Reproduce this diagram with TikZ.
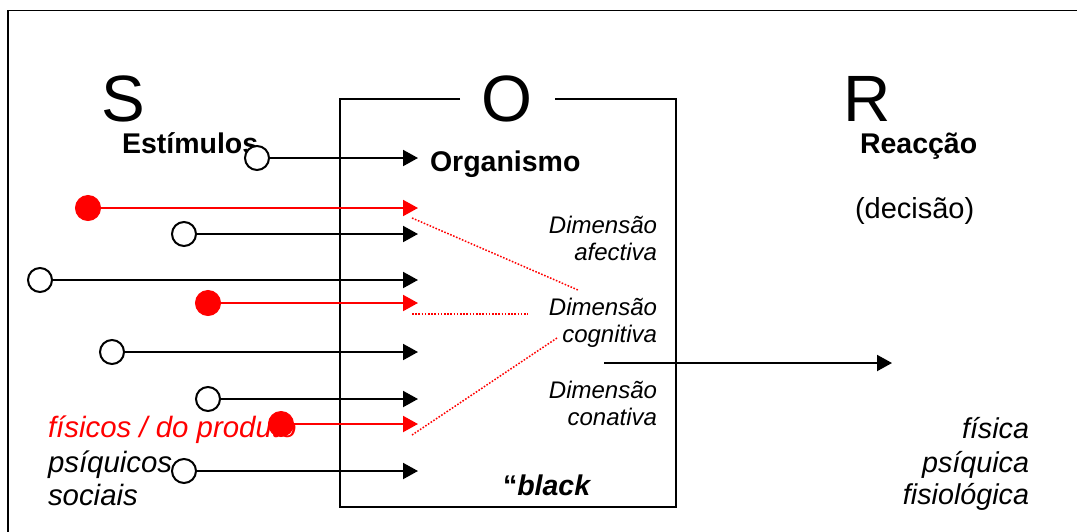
\documentclass[tikz,border=0pt]{standalone}
\usepackage{fontspec}
\setmainfont{Liberation Sans}
\usetikzlibrary{arrows.meta}
\begin{document}
\begin{tikzpicture}[x=1pt,y=1pt,
  lbl/.style={inner sep=0pt, outer sep=0pt},
  big/.style={lbl, font=\fontsize{65.5}{70}\selectfont},
  head/.style={lbl, font=\fontsize{28.5}{33}\selectfont\bfseries},
  dimtxt/.style={lbl, anchor=base east, font=\fontsize{24}{27}\selectfont\itshape},
  sidetxt/.style={lbl, font=\fontsize{28.7}{33}\selectfont\itshape},
  lefttxt/.style={lbl, anchor=base west, font=\fontsize{29.4}{33}\selectfont\itshape},
  opencirc/.style={circle, draw=black, fill=white, line width=2pt, minimum size=24pt, inner sep=0pt},
  redcirc/.style={circle, draw=red, fill=red, line width=1pt, minimum size=25pt, inner sep=0pt},
  arr/.style={line width=2pt, -{Triangle[length=15pt,width=16pt]}},
  redarr/.style={arr, red},
  link/.style={red, line width=1.5pt, dash pattern=on 1.6pt off 1.6pt},
]
\useasboundingbox (0,0) rectangle (1077,-531);
\clip (0,0) rectangle (1077,-531);

% outer frame (runs off the right and bottom edges)
\draw[line width=1.6pt] (8,-560) -- (8,-10.5) -- (1100,-10.5);

% organism box with an opening for the letter O
\draw[line width=2.2pt] (460,-99) -- (340,-99) -- (340,-507) -- (676,-507) -- (676,-99) -- (555,-99);

% big letters
\node[big, anchor=base west] (S) at (101,-121) {S};
\node[big, anchor=base] (O) at (507,-121) {O};
\node[big, anchor=base west] (R) at (843,-121) {R};

% headings
\node[head, anchor=base west] (est) at (122,-153) {Estímulos};
\node[head, anchor=base west] (org) at (430,-171) {Organismo};
\node[head, anchor=base west] (rea) at (860,-153) {Reacção};
\node[lbl, anchor=base west, font=\fontsize{29}{33}\selectfont] (dec) at (855,-218) {(decisão)};

% dimensions inside the box
\node[dimtxt] (afe1) at (657,-233) {Dimensão};
\node[dimtxt] (afe2) at (657,-260) {afectiva};
\node[dimtxt] (cog1) at (657,-315) {Dimensão};
\node[dimtxt] (cog2) at (657,-342) {cognitiva};
\node[dimtxt] (con1) at (657,-398) {Dimensão};
\node[dimtxt] (con2) at (657,-425) {conativa};
\node[head, anchor=base west] (blk) at (503,-495) {“\textit{black}};

% stimulus types
\node[lefttxt, text=red] (fis) at (48,-437) {físicos / do produto};
\node[lefttxt] (psi) at (48,-472) {psíquicos};
\node[lefttxt] (soc) at (48,-505) {sociais};

% response types
\node[sidetxt, anchor=base east] (rfis) at (1029,-438) {física};
\node[sidetxt, anchor=base east] (rpsi) at (1029,-472) {psíquica};
\node[sidetxt, anchor=base east] (rfio) at (1029,-504) {fisiológica};

% arrow tips at the box
\coordinate (t1) at (418,-158);
\coordinate (t2) at (418,-208);
\coordinate (t3) at (418,-234);
\coordinate (t4) at (418,-282);
\coordinate (t5) at (418,-303);
\coordinate (t6) at (418,-352);
\coordinate (t7) at (418,-400);
\coordinate (t8) at (418,-426);
\coordinate (t9) at (418,-475);

% stimuli
\node[opencirc] (s1) at (257,-158) {};
\node[redcirc]  (s2) at (88,-208) {};
\node[opencirc] (s3) at (184,-234) {};
\node[opencirc] (s4) at (40,-280) {};
\node[redcirc]  (s5) at (208,-303) {};
\node[opencirc] (s6) at (112,-352) {};
\node[opencirc] (s7) at (208,-399) {};
\node[redcirc]  (s8) at (281,-424) {};
\node[opencirc] (s9) at (184,-471) {};

\draw[arr] (s1) -- (t1);
\draw[redarr] (s2) -- (t2);
\draw[arr] (s3) -- (t3);
\draw[arr] (s4.east) -- (s4.east -| t4);
\draw[redarr] (s5) -- (t5);
\draw[arr] (s6) -- (t6);
\draw[arr] (s7.east) -- (s7.east -| t7);
\draw[redarr] (s8.east) -- (s8.east -| t8);
\draw[arr] (s9.east) -- (s9.east -| t9);

% links from the highlighted stimuli to the dimensions
\coordinate (l1a) at (412,-218);
\coordinate (l1b) at (578,-290);
\coordinate (l2a) at (412,-314);
\coordinate (l2b) at (528,-314);
\coordinate (l3a) at (412,-435);
\coordinate (l3b) at (557,-338);
\draw[link] (l1a) -- (l1b);
\draw[link] (l2a) -- (l2b);
\draw[link] (l3a) -- (l3b);

% response
\coordinate (o1) at (604,-363);
\coordinate (r1) at (892,-363);
\draw[arr] (o1) -- (r1);
\end{tikzpicture}
\end{document}
